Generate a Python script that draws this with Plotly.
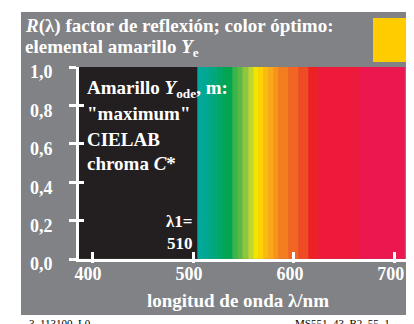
import numpy as np
import plotly.graph_objects as go

# --- data ---------------------------------------------------------------
# spectral bands (nm): lower edge, upper edge, colour shown where R = 1
band_lo = [387, 505, 510, 515, 520, 525, 530, 540, 545, 550, 555, 560,
           565, 570, 575, 580, 585, 595, 605, 615, 625, 665]
band_hi = [505, 510, 515, 520, 525, 530, 540, 545, 550, 555, 560, 565,
           570, 575, 580, 585, 595, 605, 615, 625, 665, 710]
band_color = ["#231F20", "#00A99D", "#00A994", "#00A889", "#00A87A",
              "#00A76A", "#00A651", "#3AB54A", "#5BB947", "#8DC63F",
              "#C0D631", "#F2E500", "#FFD200", "#FDB913", "#FBA819",
              "#F7941D", "#F47D20", "#F26522", "#EF4B24", "#ED2024",
              "#ED1A3C", "#EC174F"]
reflectance = [1.0] * len(band_lo)

x_ticks = [400, 500, 600, 700]
y_ticks = [0.0, 0.2, 0.4, 0.6, 0.8, 1.0]
y_ticktext = ["0,0", "0,2", "0,4", "0,6", "0,8", "1,0"]

GREY = "#808285"
SERIF = "Liberation Serif"

# the page body adds an 8 px margin, so the figure is drawn 8 px in
OFF = 8
W, H = 414 - OFF, 324 - OFF
L, R, T, B = 79 - OFF, 0, 67 - OFF, 65


def px(x):
    # window pixel -> paper coordinate
    return (x - OFF - L) / (W - L - R)


def py(y):
    return (H - B - (y - OFF)) / (H - T - B)


def ann(text, x, y, xanchor="left", size=18, color="white", yanchor="middle", bold=True):
    return dict(
        xref="paper", yref="paper", x=px(x), y=py(y),
        xanchor=xanchor, yanchor=yanchor, showarrow=False, text=text,
        align=xanchor if xanchor != "center" else "center",
        font=dict(family=SERIF, size=size, color=color,
                  weight="bold" if bold else "normal"),
    )


lo = np.array(band_lo, dtype=float)
hi = np.array(band_hi, dtype=float)

fig = go.Figure()
fig.add_trace(go.Bar(
    x=(lo + hi) / 2,
    y=reflectance,
    width=hi - lo,
    marker=dict(color=band_color, line=dict(width=0.6, color=band_color)),
    hoverinfo="skip",
))
# empty trace so the overlay axes (crossing tick marks) get drawn
fig.add_trace(go.Scatter(x=[], y=[], xaxis="x2", yaxis="y2", showlegend=False))

tickfont = dict(family=SERIF, size=18, color="white", weight="bold")

fig.update_layout(
    width=W, height=H,
    margin=dict(l=L, r=R, t=T, b=B),
    paper_bgcolor=GREY,
    plot_bgcolor=GREY,
    showlegend=False,
    bargap=0,
    xaxis=dict(
        range=[387, 719], tickvals=x_ticks, ticks="inside", ticklen=7,
        tickwidth=3, tickcolor="white", showline=True, linecolor="white",
        linewidth=3, showgrid=False, zeroline=False, tickfont=tickfont,
        ticklabelshift=-4, ticklabelstandoff=-4,
    ),
    xaxis2=dict(
        range=[387, 719], tickvals=x_ticks, ticks="outside", ticklen=3,
        tickwidth=3, tickcolor="white", overlaying="x", anchor="y2",
        side="bottom", showticklabels=False, showline=False,
        showgrid=False, zeroline=False,
    ),
    yaxis=dict(
        range=[0, 1], tickvals=y_ticks, ticktext=y_ticktext, ticks="outside",
        ticklen=7, tickwidth=3, tickcolor="white", showline=True,
        linecolor="white", linewidth=3, showgrid=False, zeroline=False,
        tickfont=tickfont, ticklabelstandoff=13, ticklabelshift=5,
    ),
    yaxis2=dict(
        range=[0, 1], tickvals=y_ticks, ticks="inside", ticklen=5,
        tickwidth=3, tickcolor="white", overlaying="y", anchor="x2",
        side="left", showticklabels=False, showline=False,
        showgrid=False, zeroline=False,
    ),
    shapes=[
        # white margins round the grey card
        dict(type="rect", xref="paper", yref="paper", x0=px(0), x1=px(21),
             y0=py(324), y1=py(0), fillcolor="white", line_width=0),
        dict(type="rect", xref="paper", yref="paper", x0=px(0), x1=px(414),
             y0=py(12), y1=py(0), fillcolor="white", line_width=0),
        dict(type="rect", xref="paper", yref="paper", x0=px(0), x1=px(414),
             y0=py(324), y1=py(315), fillcolor="white", line_width=0),
        # yellow sample patch
        dict(type="rect", xref="paper", yref="paper", x0=px(373), x1=px(414),
             y0=py(62), y1=py(18), fillcolor="#FFCC00", line_width=0),
    ],
    annotations=[
        ann("<i>R</i>(λ) factor de reflexión; color óptimo:", 23, 26, size=19),
        ann("elemental amarillo <i>Y</i><sub>e</sub>", 23, 48, size=19),
        ann("Amarillo <i>Y</i><sub>ode</sub>, m:", 85, 89, size=19),
        ann("\"maximum\"", 85, 113, size=19),
        ann("CIELAB", 85, 139, size=19),
        ann("chroma <i>C</i>*", 85, 163, size=19),
        ann("λ1=<br>510", 195, 232, xanchor="right", size=17),
        ann("longitud de onda λ/nm", 238, 300, xanchor="center", size=19),
        ann("3_113100_L0", 27, 315, size=11, color="black",
            yanchor="top", bold=False),
        ann("MS551_43_B2_55_1", 293, 315, size=11, color="black",
            yanchor="top", bold=False),
    ],
)

fig.write_html("out.html")
